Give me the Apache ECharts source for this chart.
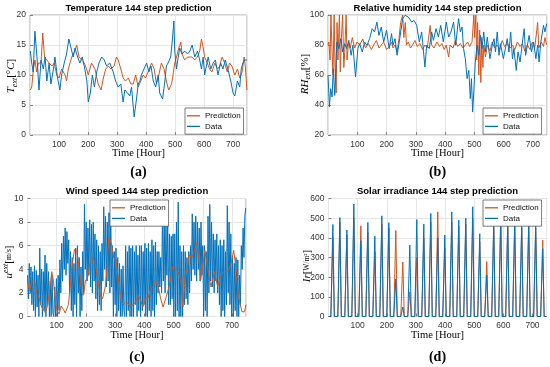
<!DOCTYPE html>
<html><head><meta charset="utf-8">
<script src="https://cdn.jsdelivr.net/npm/echarts/dist/echarts.min.js"></script>
<style>html,body{margin:0;padding:0;background:#fff}#c{width:550px;height:367px}</style>
</head><body><div id="c"></div>
<script>
// ---------- data (hour, value) ----------
const tempData = [[1,14],[6,12],[11,10.5],[17,17.3],[24,13],[31,7.5],[38,12.5],[46,11],[52,13],[58,9],[66,12],[72,8.5],[81,11],[86,13],[95,9.5],[103,7.5],[109,10],[118,12],[126,13.5],[134,16],[144,14],[149,13],[155,14.5],[164,13],[172,12],[180,13],[189,11],[196,9],[201,5.5],[208,7],[215,10],[222,8],[230,10.5],[238,12],[247,13],[256,12.5],[264,11.5],[275,12],[287,10.5],[295,9],[304,8],[313,8.5],[321,5.5],[327,7.5],[336,7],[344,6.5],[350,8],[359,3],[367,6],[373,8.5],[379,9],[384,10],[393,11],[402,12],[410,10.5],[417,11.5],[425,9],[433,8],[442,10],[447,7],[457,6],[465,9],[470,11.5],[476,12],[485,13],[491,16],[496,19],[499,14],[505,11],[511,13],[516,14.5],[524,13.5],[533,14],[543,13.5],[551,14],[559,15],[568,13],[577,14],[585,12.5],[591,11],[597,13],[602,10],[608,11.5],[614,13],[623,11],[631,12],[639,12.5],[648,10],[657,12],[665,11],[673,12.5],[682,11],[692,9],[700,7],[706,6.5],[715,9],[723,8],[728,11],[734,12],[740,12.5],[748,12.5]];
const tempPred = [[1,7.5],[6,8],[12,11],[17,12.5],[23,10.5],[29,12],[38,12],[44,17],[50,13],[58,12.5],[66,12],[75,11.5],[84,12],[92,10],[100,9.5],[109,11],[121,10],[126,9],[132,11],[144,13],[155,14],[161,15],[169,13],[178,12.5],[187,12],[195,11],[201,10],[212,12],[224,11],[235,8.5],[245,7.5],[253,9.5],[261,11],[270,11.5],[279,11],[290,11.5],[298,13],[304,12.5],[313,11],[321,9.5],[329,9],[339,9.5],[348,8.5],[356,8.5],[364,10],[373,8],[382,9],[390,10],[398,9.5],[407,10.5],[419,12],[428,11],[436,8.5],[444,10],[453,12],[462,11],[470,9],[478,7.5],[488,8.5],[493,10],[499,12],[505,13],[513,14.5],[520,15.5],[524,13.5],[533,12.5],[543,13],[551,13],[559,13],[568,12.5],[577,13],[585,14],[591,16],[597,14.5],[602,13],[611,12],[619,11],[627,10.5],[637,12],[646,11],[654,11.5],[662,13],[671,12],[680,10.5],[688,12],[696,11.5],[706,10],[715,11],[723,9.5],[731,10.5],[738,13],[742,11.5],[748,7.5]];

const rhData = [[0,59.8],[5,38.7],[9,50.9],[14,45.3],[18,64.2],[23,46.4],[30,82],[37,77.6],[44,84.2],[50,75.3],[57,80.9],[64,77.6],[71,83.1],[79,73.1],[85,79.8],[94,58.7],[102,77.6],[108,80.9],[117,75.3],[125,82],[133,79.8],[142,84.2],[151,90.9],[159,88.7],[167,95.3],[174,86.4],[182,92],[190,82],[200,89.8],[209,77.6],[217,87.6],[222,79.8],[229,84.2],[236,73.1],[245,84.2],[255,97.6],[263,99.8],[274,98.7],[286,95.3],[294,96.4],[303,93.1],[312,82],[320,88.7],[331,65.3],[337,79.8],[346,77.6],[354,88.7],[360,83.1],[369,90.9],[377,85.3],[385,93.1],[394,82],[404,95.3],[412,85.3],[420,88.7],[429,95.3],[436,79.8],[446,97.6],[452,88.7],[458,92],[463,77.6],[469,70.9],[475,57.6],[481,63.1],[486,44.2],[490,57.6],[494,35.3],[498,48.7],[503,68.7],[509,79.8],[515,73.1],[521,86.4],[526,77.6],[532,88.7],[538,75.3],[544,85.3],[553,70.9],[561,79.8],[567,84.2],[572,75.3],[578,88.7],[584,73.1],[589,80.9],[599,70.9],[607,78.7],[612,84.2],[618,75.3],[624,88.7],[630,70.9],[635,77.6],[643,63.1],[649,75.3],[656,68.7],[664,82],[670,90.9],[675,73.1],[681,79.8],[687,86.4],[695,75.3],[702,82],[710,70.9],[716,79.8],[721,68.7],[727,82],[736,93.1],[741,88.7],[747,94.2]];
const rhPred = [[0,80],[3,82],[7,70],[10,100],[14,75],[17,60],[21,100],[24,65],[28,48],[31,95],[34,70],[39,100],[42,62],[46,85],[50,100],[54,65],[57,75],[62,100],[65,70],[70,82],[76,78],[83,85],[91,78],[99,82],[108,80],[119,84],[128,78],[138,81],[148,77],[156,80],[165,83],[174,78],[182,80],[190,82],[200,77],[209,79],[217,82],[222,78],[229,80],[236,75],[243,85],[248,95],[255,100],[259,85],[264,95],[268,80],[274,82],[282,78],[289,80],[297,83],[305,79],[314,81],[323,77],[331,80],[339,78],[349,93],[354,80],[362,78],[372,82],[381,79],[389,81],[397,77],[404,80],[412,72],[417,80],[427,78],[435,83],[443,79],[452,81],[461,78],[469,80],[477,82],[484,79],[492,82],[498,100],[501,85],[505,100],[508,70],[511,95],[515,60],[518,90],[522,55],[525,85],[529,65],[532,80],[538,72],[544,80],[553,76],[561,82],[569,78],[578,80],[587,77],[595,83],[603,79],[612,81],[622,78],[630,80],[638,77],[647,82],[656,79],[664,81],[672,76],[681,80],[690,77],[698,82],[706,78],[716,95],[720,78],[729,82],[736,79],[741,85],[747,80]];

// wind measured data, sampled every 3 hours starting at hour 0
const windStepHours = 3;
const windData = [3.5,1.5,4.5,2,4.2,1,3.8,0.5,4.3, 0,3.9,0.8,3.5,0,5.8,1, 4,0,3.8,0.5,5.2,0,4.5,1, 3.8,0,3,0,3.5,0.3,0,2.5,0,3.2, 0,3.5,0.5,4.8,2,6.2, 3,6.8,4,7.5,3.5,7.2,4.5,6.5,2,5.5,0.5, 5,0,4.5,1,5.8,0,6,2,5,0,4.2,0.5,5.5, 2,9.5,4,8,3,7.5,3.5,8.2,2.5,7.8, 2,8,3,7,1.5,6.5, 0.5,6,1,5.5,0.5,6.2, 3,9.3,4,8.5,2.5,8,3,8.8,2,8.5,2.5, 6,0,5.5,1,5.8,0,5,0.5, 4.5,0,4,0,4.3,0.5,0, 6,0,5.5,0.5,6,0,5.8,0, 6,0,5.5,1,6,0,5.2,0.5,6,0, 6,0.5,5.5,1,6.2,0, 5.8,0,6.2,0.5,5.5, 0,6.5,0.5,6,0,6.3,1,5.5, 2,5.5,2.5,5,2,8.7, 3,8.5,2,7.8,3.5,8,1, 7,1,6.8,1.5,7,0, 7,0,8,0.5,9.7,0, 6,0,5.5,0,6, 1,5.5,1.5,5,1,5.5,2,6, 3,8.7,4,8,3.5,8.5, 3,8,4,7.5,3,8,3.5,6, 0,6,0.5,5.5,0, 8.5,2,9.5,3,8,2.5, 7,2,6.5,3,7,2,6,1, 6.5,0,6,0.5,6.5,0,5.5, 1,9.4,2,8,1,7, 0,5,0,4.5,0.5,5,0,4.8, 0,3.5,1,6,4,7.5,5,8.5,9.2];
const windPred = [[0,3],[8,2.2],[16,3],[25,3],[31,2],[37,1.8],[46,1],[54,0.5],[62,0.3],[69,1],[77,2.5],[83,3.8],[89,3],[94,1.5],[100,0.6],[108,0.2],[115,0.9],[123,0.6],[129,0.3],[134,0.2],[140,1],[146,2.5],[154,4.5],[161,5.7],[169,5.6],[177,4],[186,2],[192,1.8],[198,3],[207,3.4],[215,4.8],[223,5],[232,4.5],[241,3],[249,1.8],[257,1.5],[266,2.5],[272,4],[278,6.7],[287,6.2],[295,5],[303,4.8],[312,3],[321,1.2],[330,1],[335,1.2],[344,1.1],[352,0.8],[361,1],[370,1.2],[379,1.8],[387,1.4],[395,0.8],[404,1.5],[413,1.6],[421,2.3],[429,2.5],[439,3],[448,2.5],[456,1.5],[464,0.8],[473,1.5],[482,2.3],[490,3.1],[496,4.2],[513,3.9],[525,3.1],[532,0.8],[540,3.5],[548,4.2],[553,5.2],[562,5],[571,5.5],[580,6.3],[588,4.5],[593,3.1],[601,4.5],[607,5.6],[616,4.2],[628,2.5],[640,3.8],[651,2.5],[662,3.5],[674,3.8],[686,3.8],[697,4.5],[706,5.6],[714,4],[722,1.7],[734,0.4],[743,0.4],[748,1]];

// solar: daily peak values (day 0..30), zero at night
const solarDataPeaks = [468,503,440,572,385,478,409,512,477,190,48,363,493,470,524,400,414,532,490,500,558,421,211,490,532,490,495,480,485,480,345];
const solarPredPeaks = [400,480,415,500,461,430,330,470,450,437,277,125,300,400,480,532,350,480,460,470,500,380,279,450,480,460,470,450,460,450,389];
const sunrise = 8, noon = 15, sunset = 20, lastHour = 748;

const ORANGE = '#D95319', BLUE = '#0072BD';

function dayCurve(peaks){
  const pts = [[0,0]];
  peaks.forEach((p,d)=>{ pts.push([d*24+sunrise,0],[d*24+noon,p],[d*24+sunset,0]); });
  pts.push([lastHour,0]);
  return pts;
}

const sans = '"Liberation Sans", Arial, Helvetica, sans-serif';
const serif = '"Liberation Serif", "Times New Roman", serif';

const grids = [
  {left:30, top:15, width:217, height:120},
  {left:328, top:15, width:219, height:120},
  {left:27.5, top:198.5, width:218.5, height:118},
  {left:328.5, top:198.5, width:218, height:118}
].map(g=>Object.assign(g,{show:true, borderColor:'#a8a8a8', borderWidth:1, backgroundColor:'#fff'}));

function xAx(gi){
  return {type:'value', gridIndex:gi, min:0, max:lastHour, interval:100,
    axisLine:{show:false},
    axisTick:{show:true, inside:true, length:3, lineStyle:{color:'#666', width:0.8}},
    axisLabel:{showMinLabel:false, showMaxLabel:false, fontSize:8.5, color:'#333', margin:5, fontFamily:sans},
    splitLine:{show:true, lineStyle:{color:'#e6e6e6', width:1}}};
}
function yAx(gi,min,max,interval){
  return {type:'value', gridIndex:gi, min, max, interval,
    axisLine:{show:false},
    axisTick:{show:true, inside:true, length:3, lineStyle:{color:'#666', width:0.8}},
    axisLabel:{fontSize:8.5, color:'#333', margin:4, fontFamily:sans},
    splitLine:{show:true, lineStyle:{color:'#e6e6e6', width:1}}};
}
function line(name, data, gi, color, z){
  return {type:'line', name, data, xAxisIndex:gi, yAxisIndex:gi, symbol:'none', showSymbol:false,
    lineStyle:{color, width:1}, itemStyle:{color}, z:z||2, animation:false};
}
function leg(left, top){
  return {show:true, left, top, orient:'vertical', data:['Prediction','Data'], selectedMode:false,
    icon:'rect', itemWidth:13, itemHeight:1.3, itemGap:1, padding:[3,3,3,2],
    backgroundColor:'#fff', borderColor:'#444', borderWidth:0.7,
    textStyle:{fontSize:8, lineHeight:9.6, color:'#111', fontFamily:sans}};
}

const richY = {
  i:{fontFamily:serif, fontStyle:'italic', fontSize:11, lineHeight:14, color:'#333'},
  n:{fontFamily:serif, fontSize:11, lineHeight:14, color:'#333'},
  sub:{fontFamily:serif, fontStyle:'italic', fontSize:8, lineHeight:9, color:'#333', verticalAlign:'bottom'},
  sup:{fontFamily:serif, fontStyle:'italic', fontSize:8, lineHeight:9, color:'#333', verticalAlign:'top'},
  sm:{fontFamily:serif, fontSize:7.5, lineHeight:14, color:'#333'}
};
function yName(x,y,text){
  return {type:'text', x, y, rotation:Math.PI/2, style:{text, rich:richY, align:'center', verticalAlign:'middle'}};
}
function label(x,y,text,font){
  return {type:'text', x, y, style:{text, font, fill:'#000', align:'center', verticalAlign:'middle'}};
}

const chart = echarts.init(document.getElementById('c'), null, {renderer:'canvas'});
chart.setOption({
  animation:false,
  backgroundColor:'#fff',
  grid:grids,
  xAxis:[xAx(0),xAx(1),xAx(2),xAx(3)],
  yAxis:[yAx(0,0,20,5), yAx(1,20,100,20), yAx(2,0,10,2), yAx(3,0,600,100)],
  legend:[leg(185,108), leg(483,108), leg(110,200), leg(483,200)],
  series:[
    line('Prediction', tempPred, 0, ORANGE),
    line('Data', tempData, 0, BLUE),
    line('Prediction', rhPred, 1, ORANGE),
    line('Data', rhData, 1, BLUE),
    line('Data', windData.map((v,i)=>[i*windStepHours, v]), 2, BLUE),
    line('Prediction', windPred, 2, ORANGE, 3),
    line('Prediction', dayCurve(solarPredPeaks), 3, ORANGE),
    line('Data', dayCurve(solarDataPeaks), 3, BLUE)
  ],
  graphic:[
    label(138.5, 8, 'Temperature 144 step prediction', 'bold 9.5px '+sans),
    label(437.5, 8, 'Relative humidity 144 step prediction', 'bold 9.5px '+sans),
    label(137, 191, 'Wind speed 144 step prediction', 'bold 9.5px '+sans),
    label(437.5, 191, 'Solar irradiance 144 step prediction', 'bold 9.5px '+sans),
    label(138.5, 153, 'Time [Hour]', '10.5px '+serif),
    label(437.5, 153, 'Time [Hour]', '10.5px '+serif),
    label(137, 335, 'Time [Hour]', '10.5px '+serif),
    label(437.5, 335, 'Time [Hour]', '10.5px '+serif),
    label(138.5, 172, '(a)', 'bold 14px '+serif),
    label(437.5, 172, '(b)', 'bold 14px '+serif),
    label(137, 357, '(c)', 'bold 14px '+serif),
    label(437.5, 357, '(d)', 'bold 14px '+serif),
    yName(11.5, 76, '{i|T}{sub|ext}{n|[°}{i|C}{n|]}'),
    yName(305, 74, '{i|RH}{sub|ext}{n|[%]}'),
    yName(9, 262, '{i|u}{sup|ext}{n|[}{sm|m/s}{n|]}'),
    yName(307, 266, '{i|Ir}{n|[}{sm|W/m²}{n|]}')
  ]
});
</script>
</body></html>
